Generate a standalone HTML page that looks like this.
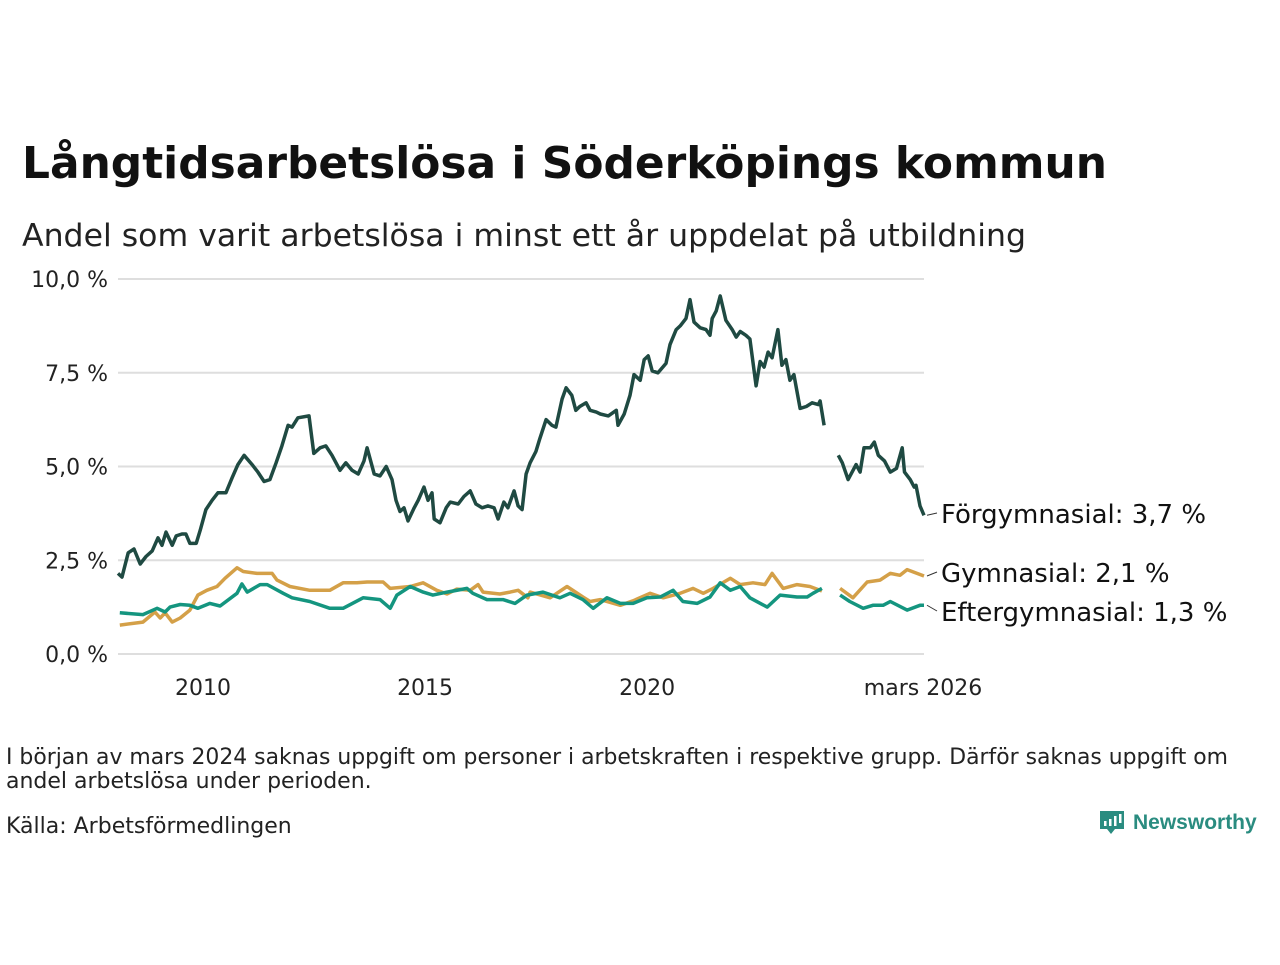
<!DOCTYPE html>
<html><head><meta charset="utf-8"><style>
body{margin:0;background:#fff;width:1280px;height:960px;overflow:hidden;font-family:"Liberation Sans","DejaVu Sans",sans-serif;}
svg text{font-family:"DejaVu Sans","Liberation Sans",sans-serif;}
</style></head><body>
<svg id="chart" width="1280" height="960">
<text x="22" y="178" font-size="44" font-weight="bold" fill="#111" textLength="1085" lengthAdjust="spacingAndGlyphs">Långtidsarbetslösa i Söderköpings kommun</text>
<text x="22" y="246" font-size="31.5" fill="#222" textLength="1004" lengthAdjust="spacingAndGlyphs">Andel som varit arbetslösa i minst ett år uppdelat på utbildning</text>
<g id="grid"></g>
<g id="xaxis"></g>
<g id="series"></g>
<text x="6" y="764" font-size="22" fill="#222" textLength="1222" lengthAdjust="spacingAndGlyphs">I början av mars 2024 saknas uppgift om personer i arbetskraften i respektive grupp. Därför saknas uppgift om</text>
<text x="6" y="788" font-size="22" fill="#222">andel arbetslösa under perioden.</text>
<text x="6" y="833" font-size="22" fill="#222">Källa: Arbetsförmedlingen</text>
<g>
<path d="M1100 811h24v18h-9l-4 5-4-5h-7z" fill="#2a8c80"/>
<rect x="1104" y="821" width="2.5" height="5" fill="#fff"/><rect x="1109" y="819" width="2.5" height="7" fill="#fff"/><rect x="1114" y="816" width="2.5" height="10" fill="#fff"/><rect x="1119" y="814" width="2.5" height="9" fill="#fff"/>
<text x="1133" y="829" font-size="21" font-weight="bold" fill="#2a8c80" style="font-family:'Liberation Sans',sans-serif">Newsworthy</text>
</g>
</svg>
<script>
const yTicks=[0,2.5,5,7.5,10];
const yTickLabels=["0,0 %","2,5 %","5,0 %","7,5 %","10,0 %"];
const xTicks=[2010,2015,2020,2026.19];
const xTickLabels=["2010","2015","2020","mars 2026"];
const forgDates=[2008.04,2008.13,2008.27,2008.40,2008.54,2008.67,2008.81,2008.94,2009.03,2009.12,2009.26,2009.35,2009.48,2009.57,2009.66,2009.80,2009.89,2010.02,2010.16,2010.29,2010.47,2010.61,2010.74,2010.88,2011.06,2011.19,2011.33,2011.46,2011.60,2011.73,2011.87,2011.96,2012.09,2012.34,2012.45,2012.59,2012.72,2012.86,2013.04,2013.17,2013.31,2013.45,2013.58,2013.65,2013.81,2013.94,2014.08,2014.21,2014.30,2014.39,2014.48,2014.57,2014.71,2014.80,2014.93,2015.02,2015.11,2015.16,2015.29,2015.43,2015.52,2015.70,2015.83,2015.97,2016.10,2016.24,2016.37,2016.51,2016.60,2016.73,2016.82,2016.96,2017.05,2017.14,2017.23,2017.32,2017.45,2017.54,2017.68,2017.81,2017.90,2018.04,2018.13,2018.26,2018.35,2018.44,2018.58,2018.67,2018.81,2018.90,2019.08,2019.26,2019.30,2019.44,2019.57,2019.66,2019.80,2019.89,2019.98,2020.07,2020.20,2020.38,2020.47,2020.61,2020.70,2020.83,2020.92,2021.01,2021.15,2021.28,2021.37,2021.42,2021.51,2021.60,2021.73,2021.87,2021.96,2022.05,2022.18,2022.27,2022.41,2022.50,2022.59,2022.68,2022.77,2022.90,2022.99,2023.08,2023.17,2023.26,2023.40,2023.54,2023.67,2023.81,2023.85,2023.94,2024.10,2024.26,2024.35,2024.48,2024.66,2024.75,2024.84,2024.98,2025.07,2025.16,2025.30,2025.43,2025.57,2025.70,2025.75,2025.88,2025.97,2026.01,2026.10,2026.19];
const forgValues=[2.15,2.05,2.7,2.8,2.4,2.6,2.75,3.1,2.9,3.25,2.9,3.15,3.2,3.2,2.95,2.95,3.3,3.85,4.1,4.3,4.3,4.7,5.05,5.3,5.05,4.85,4.6,4.65,5.1,5.55,6.1,6.05,6.3,6.35,5.35,5.5,5.55,5.3,4.9,5.1,4.9,4.8,5.15,5.5,4.8,4.75,5.0,4.65,4.1,3.8,3.9,3.55,3.9,4.1,4.45,4.1,4.3,3.6,3.5,3.9,4.05,4.0,4.2,4.35,4.0,3.9,3.95,3.9,3.6,4.05,3.9,4.35,3.95,3.85,4.8,5.1,5.4,5.75,6.25,6.1,6.05,6.8,7.1,6.9,6.5,6.6,6.7,6.5,6.45,6.4,6.35,6.5,6.1,6.4,6.9,7.45,7.3,7.85,7.95,7.55,7.5,7.75,8.25,8.65,8.75,8.95,9.45,8.85,8.7,8.65,8.5,8.95,9.15,9.55,8.9,8.65,8.45,8.6,8.5,8.4,7.15,7.8,7.65,8.05,7.9,8.65,7.7,7.85,7.3,7.45,6.55,6.6,6.7,6.65,6.75,6.1,null,5.3,5.1,4.65,5.05,4.85,5.5,5.5,5.65,5.3,5.15,4.85,4.95,5.5,4.85,4.65,4.45,4.5,3.95,3.7];
const gymDates=[2008.08,2008.60,2008.87,2008.99,2009.10,2009.26,2009.44,2009.66,2009.84,2010.04,2010.27,2010.45,2010.72,2010.86,2011.17,2011.51,2011.62,2011.91,2012.36,2012.81,2013.11,2013.42,2013.65,2014.01,2014.17,2014.62,2014.91,2015.22,2015.45,2015.67,2015.97,2016.15,2016.26,2016.64,2016.87,2017.05,2017.27,2017.32,2017.77,2018.15,2018.51,2018.67,2018.90,2019.35,2019.64,2020.02,2020.32,2020.70,2020.99,2021.22,2021.44,2021.83,2022.05,2022.34,2022.61,2022.77,2023.02,2023.33,2023.62,2023.89,2024.10,2024.30,2024.59,2024.91,2025.20,2025.43,2025.65,2025.81,2026.19];
const gymValues=[0.77,0.85,1.12,0.96,1.1,0.85,0.96,1.17,1.57,1.7,1.8,2.02,2.3,2.2,2.15,2.15,1.97,1.8,1.7,1.7,1.9,1.9,1.92,1.92,1.75,1.8,1.9,1.7,1.6,1.73,1.7,1.85,1.65,1.6,1.65,1.7,1.5,1.65,1.5,1.8,1.52,1.4,1.45,1.3,1.42,1.62,1.5,1.62,1.75,1.62,1.75,2.02,1.85,1.9,1.85,2.15,1.75,1.85,1.8,1.68,null,1.75,1.5,1.92,1.97,2.15,2.1,2.25,2.08];
const eftDates=[2008.08,2008.60,2008.92,2009.10,2009.21,2009.44,2009.66,2009.84,2010.11,2010.34,2010.72,2010.83,2010.95,2011.24,2011.40,2011.76,2011.96,2012.36,2012.81,2013.11,2013.56,2013.94,2014.17,2014.32,2014.62,2014.91,2015.13,2015.45,2015.90,2016.03,2016.35,2016.71,2016.98,2017.16,2017.25,2017.61,2017.99,2018.22,2018.51,2018.74,2019.05,2019.35,2019.64,2019.95,2020.25,2020.54,2020.76,2021.08,2021.37,2021.60,2021.83,2022.05,2022.27,2022.66,2022.95,2023.33,2023.56,2023.69,2023.89,2024.10,2024.30,2024.52,2024.82,2025.04,2025.27,2025.43,2025.81,2026.10,2026.19];
const eftValues=[1.1,1.05,1.22,1.12,1.25,1.32,1.3,1.22,1.35,1.28,1.62,1.87,1.65,1.85,1.85,1.62,1.5,1.4,1.22,1.22,1.5,1.45,1.22,1.57,1.8,1.65,1.57,1.65,1.75,1.62,1.45,1.45,1.35,1.5,1.57,1.65,1.5,1.62,1.45,1.22,1.5,1.35,1.35,1.5,1.52,1.7,1.4,1.35,1.52,1.9,1.7,1.8,1.5,1.25,1.57,1.52,1.52,1.62,1.75,null,1.57,1.4,1.22,1.3,1.3,1.4,1.17,1.3,1.3];
const seriesNames=["Förgymnasial","Gymnasial","Eftergymnasial"];
const x0=118,x1=924,y0=654,y1=279,xMin=2008.04,xMax=2026.19;
const X=v=>x0+(v-xMin)/(xMax-xMin)*(x1-x0);
const Y=v=>y0-(v/10)*(y0-y1);
const NS="http://www.w3.org/2000/svg";
function mk(tag,attrs,parent,txt){const e=document.createElementNS(NS,tag);for(const k in attrs)e.setAttribute(k,attrs[k]);if(txt!==undefined)e.textContent=txt;parent.appendChild(e);return e;}
const grid=document.getElementById('grid');
yTicks.forEach((t,i)=>{
 const l=mk('line',{x1:x0,x2:x1,y1:Y(t),y2:Y(t),stroke:'#dedede','stroke-width':2},grid);
 
 
 const tx=mk('text',{x:108,y:Y(t)+8,'text-anchor':'end','font-size':22,fill:'#222'},grid,yTickLabels[i]);
 
 
});
const xa=document.getElementById('xaxis');
xTicks.forEach((t,i)=>{
 const tx=mk('text',{x:X(t)-(i==3?1:2),y:695,'text-anchor':'middle','font-size':22,fill:'#222'},xa,xTickLabels[i]);
 
 
});
function pathD(ds,vs){let d='',pen=false;ds.forEach((t,i)=>{const v=vs[i];if(v===null){pen=false;return;}d+=(pen?'L':'M')+X(t).toFixed(1)+' '+Y(v).toFixed(1);pen=true;});return d;}
const sg=document.getElementById('series');
const defs=[[forgDates,forgValues,'#1f4a42','forgymnasial-line'],[gymDates,gymValues,'#d4a048','gymnasial-line'],[eftDates,eftValues,'#14957f','eftergymnasial-line']];
const labelY=[515,574,613];
defs.forEach((s,i)=>{
 const p=mk('path',{d:pathD(s[0],s[1]),fill:'none',stroke:s[2],'stroke-width':3.5,'stroke-linejoin':'round'},sg);
 
 
 const last=s[1][s[1].length-1];
 const ly=labelY[i];
 const ln=mk('line',{x1:X(xMax)+3,y1:Y(last),x2:X(xMax)+13,y2:ly-2,stroke:'#333','stroke-width':1},sg);
 
 
 const tx=mk('text',{x:X(xMax)+17,y:ly+8,'font-size':26,fill:'#111'},sg,seriesNames[i]+': '+last.toFixed(1).replace('.',',')+' %');
 
 
});
</script>
</body></html>
